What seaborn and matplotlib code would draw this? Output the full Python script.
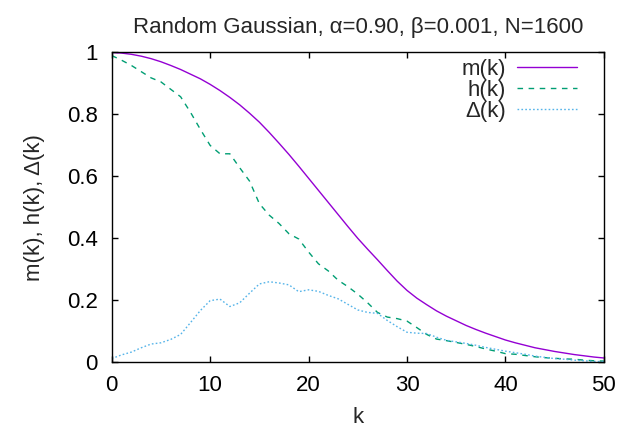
import numpy as np
import pandas as pd
import matplotlib
matplotlib.use("Agg")
import matplotlib.pyplot as plt
import seaborn as sns

# --- data ---
k = list(range(0, 51))

m_k = [1.000, 0.998, 0.994, 0.988, 0.980, 0.970, 0.958, 0.945, 0.930, 0.915,
       0.897, 0.877, 0.855, 0.831, 0.804, 0.775, 0.742, 0.707, 0.671, 0.633,
       0.594, 0.555, 0.516, 0.477, 0.438, 0.400, 0.365, 0.331, 0.296, 0.262,
       0.232, 0.207, 0.186, 0.166, 0.149, 0.134, 0.119, 0.106, 0.094, 0.083,
       0.072, 0.063, 0.055, 0.047, 0.041, 0.035, 0.030, 0.025, 0.021, 0.017,
       0.014]

h_k = [0.990, 0.975, 0.958, 0.938, 0.918, 0.905, 0.881, 0.857, 0.807, 0.752,
       0.700, 0.673, 0.673, 0.628, 0.585, 0.512, 0.475, 0.448, 0.415, 0.398,
       0.356, 0.318, 0.295, 0.265, 0.244, 0.220, 0.192, 0.161, 0.146, 0.141,
       0.133, 0.112, 0.090, 0.075, 0.070, 0.064, 0.058, 0.051, 0.043, 0.036,
       0.028, 0.026, 0.022, 0.018, 0.015, 0.013, 0.011, 0.010, 0.007, 0.005,
       0.004]

delta_k = [0.012, 0.024, 0.033, 0.047, 0.059, 0.063, 0.074, 0.090, 0.128, 0.167,
           0.199, 0.204, 0.180, 0.192, 0.223, 0.253, 0.260, 0.256, 0.250, 0.228,
           0.234, 0.229, 0.216, 0.205, 0.187, 0.169, 0.161, 0.158, 0.135, 0.115,
           0.097, 0.094, 0.093, 0.081, 0.071, 0.066, 0.061, 0.055, 0.048, 0.042,
           0.036, 0.031, 0.026, 0.020, 0.016, 0.012, 0.010, 0.007, 0.005, 0.003,
           0.002]

x_ticks = [0, 10, 20, 30, 40, 50]
y_ticks = [0, 0.2, 0.4, 0.6, 0.8, 1]
y_tick_labels = ["0", "0.2", "0.4", "0.6", "0.8", "1"]

TITLE = "Random Gaussian, α=0.90, β=0.001, N=1600"

# --- style ---
sns.set_theme(style="ticks")
plt.rcParams['font.family'] = ['Liberation Sans', 'DejaVu Sans']
FS = 16

fig = plt.figure(figsize=(6.33, 4.30), dpi=100)
ax = fig.add_axes([0.1765, 0.1574, 0.7775, 0.7206])

df = pd.DataFrame({"k": k, "m": m_k, "h": h_k, "delta": delta_k})

sns.lineplot(data=df, x="k", y="m", ax=ax, color="#9400D3", linewidth=1.0,
             label="m(k)")
sns.lineplot(data=df, x="k", y="h", ax=ax, color="#009E73", linewidth=1.0,
             label="h(k)").lines[-1].set_dashes((4, 4))
sns.lineplot(data=df, x="k", y="delta", ax=ax, color="#56B4E9", linewidth=1.0,
             label="Δ(k)").lines[-1].set_dashes((1.2, 1.6))

ax.set_xlim(0, 50)
ax.set_ylim(0, 1)
ax.set_xticks(x_ticks)
ax.set_yticks(y_ticks)
ax.set_yticklabels(y_tick_labels)
ax.tick_params(direction="in", length=4.3, width=1, top=True, right=True,
               labelsize=FS, colors="black")
ax.tick_params(axis="y", pad=10)
ax.tick_params(axis="x", pad=9)
for s in ax.spines.values():
    s.set_color("black")
    s.set_linewidth(1.0)

ax.set_xlabel("k", fontsize=FS, labelpad=8)
ax.set_ylabel("m(k), h(k), Δ(k)", fontsize=FS, labelpad=16)
ax.set_title(TITLE, fontsize=FS, pad=14)

ax.legend(loc="upper right", frameon=False, markerfirst=False, fontsize=FS,
          handlelength=2.7, handletextpad=0.5, labelspacing=0.0,
          borderpad=0.0, borderaxespad=0.0, bbox_to_anchor=(0.945, 0.98))

fig.savefig("out.png", dpi=100)
